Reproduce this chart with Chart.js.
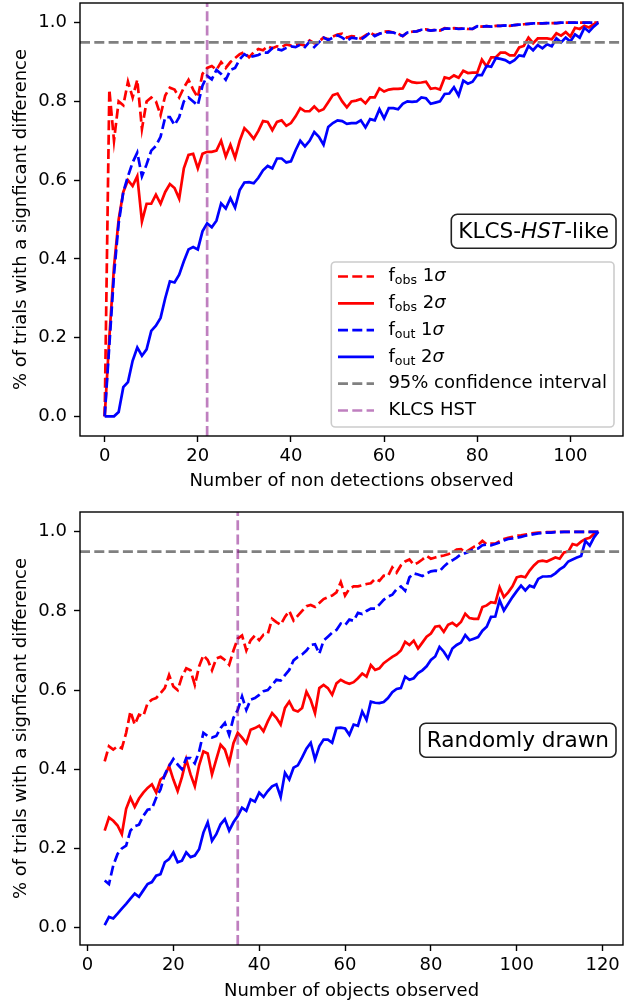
<!DOCTYPE html>
<html>
<head>
<meta charset="utf-8">
<script src="https://cdn.jsdelivr.net/npm/chart.js@4.4.1/dist/chart.umd.min.js"></script>
<style>
  html, body { margin: 0; padding: 0; background: #fff; overflow: hidden; }
  canvas { position: absolute; left: 0; }
  #topChart { top: 0; }
  #bottomChart { top: 509px; }
</style>
</head>
<body>
<canvas id="topChart" width="644" height="500"></canvas>
<canvas id="bottomChart" width="644" height="495"></canvas>
<script>
Chart.defaults.font.family = '"DejaVu Sans", sans-serif';
Chart.defaults.font.size = 18;
Chart.defaults.color = "#000";

// ---- data: top panel (KLCS-HST-like), x = number of non detections 0..106
const topCounts = Array.from({ length: 107 }, (_, i) => i);
const topObs1 = [
  0.00, 0.83, 0.70, 0.80, 0.79, 0.85, 0.81, 0.855, 0.73, 0.80,
  0.81, 0.80, 0.765, 0.815, 0.835, 0.83, 0.81, 0.835, 0.855, 0.83,
  0.81, 0.87, 0.885, 0.89, 0.88, 0.90, 0.885, 0.90, 0.91, 0.92,
  0.925, 0.912, 0.925, 0.933, 0.93, 0.94, 0.935, 0.94, 0.938, 0.945,
  0.942, 0.944, 0.945, 0.942, 0.955, 0.948, 0.952, 0.962, 0.958, 0.965,
  0.97, 0.972, 0.962, 0.966, 0.964, 0.96, 0.968, 0.975, 0.968, 0.972,
  0.977, 0.978, 0.975, 0.972, 0.966, 0.975, 0.977, 0.978, 0.982, 0.983,
  0.98, 0.982, 0.98, 0.986, 0.985, 0.986, 0.985, 0.986, 0.984, 0.984,
  0.992, 0.99, 0.991, 0.99, 0.992, 0.992, 0.993, 0.992, 0.994, 0.995,
  0.996, 0.997, 0.998, 0.998, 0.998, 0.999, 0.999, 0.999, 1.0, 1.0,
  1.0, 1.0, 1.0, 1.0, 1.0, 1.0, 1.0
];
const topObs2 = [
  0.00, 0.20, 0.38, 0.50, 0.57, 0.60, 0.585, 0.61, 0.495, 0.54,
  0.54, 0.563, 0.54, 0.57, 0.59, 0.58, 0.553, 0.63, 0.664, 0.667,
  0.63, 0.667, 0.672, 0.672, 0.675, 0.70, 0.66, 0.69, 0.657, 0.70,
  0.732, 0.72, 0.705, 0.725, 0.75, 0.748, 0.727, 0.748, 0.752, 0.738,
  0.745, 0.762, 0.783, 0.775, 0.775, 0.787, 0.775, 0.78, 0.798, 0.816,
  0.82, 0.80, 0.785, 0.80, 0.802, 0.806, 0.795, 0.81, 0.81, 0.833,
  0.825, 0.83, 0.832, 0.832, 0.833, 0.855, 0.849, 0.847, 0.848, 0.85,
  0.832, 0.834, 0.83, 0.861, 0.858, 0.866, 0.86, 0.878, 0.872, 0.873,
  0.873, 0.906, 0.889, 0.912, 0.912, 0.924, 0.924, 0.917, 0.917, 0.937,
  0.941, 0.962, 0.948, 0.96, 0.96, 0.96, 0.958, 0.973, 0.967, 0.976,
  0.965, 0.987, 0.984, 0.992, 0.988, 0.996, 1.0
];
const topOut1 = [
  0.00, 0.18, 0.36, 0.49, 0.57, 0.61, 0.645, 0.67, 0.61, 0.64,
  0.675, 0.687, 0.71, 0.76, 0.76, 0.74, 0.76, 0.80, 0.81, 0.80,
  0.79, 0.84, 0.865, 0.856, 0.88, 0.87, 0.855, 0.88, 0.885, 0.907,
  0.92, 0.912, 0.915, 0.918, 0.924, 0.924, 0.935, 0.933, 0.93, 0.936,
  0.94, 0.938, 0.944, 0.938, 0.952, 0.938, 0.95, 0.962, 0.956, 0.962,
  0.968, 0.962, 0.954, 0.962, 0.96, 0.957, 0.965, 0.975, 0.966, 0.972,
  0.975, 0.976, 0.975, 0.97, 0.966, 0.975, 0.977, 0.978, 0.982, 0.982,
  0.98, 0.981, 0.98, 0.985, 0.985, 0.986, 0.984, 0.985, 0.985, 0.984,
  0.991, 0.99, 0.991, 0.99, 0.992, 0.992, 0.993, 0.992, 0.994, 0.995,
  0.996, 0.997, 0.998, 0.998, 0.998, 0.999, 0.999, 0.999, 1.0, 1.0,
  1.0, 1.0, 1.0, 1.0, 1.0, 1.0, 1.0
];
const topOut2 = [
  0.00, 0.00, 0.00, 0.011, 0.074, 0.087, 0.141, 0.175, 0.154, 0.17,
  0.217, 0.23, 0.25, 0.30, 0.343, 0.34, 0.36, 0.394, 0.424, 0.43,
  0.424, 0.47, 0.49, 0.48, 0.497, 0.541, 0.528, 0.554, 0.53, 0.575,
  0.594, 0.595, 0.592, 0.606, 0.625, 0.636, 0.63, 0.655, 0.655, 0.645,
  0.648, 0.676, 0.70, 0.686, 0.70, 0.722, 0.71, 0.69, 0.735, 0.745,
  0.752, 0.75, 0.743, 0.745, 0.745, 0.752, 0.734, 0.755, 0.752, 0.78,
  0.757, 0.783, 0.783, 0.78, 0.794, 0.80, 0.799, 0.80, 0.81, 0.808,
  0.794, 0.797, 0.80, 0.819, 0.82, 0.836, 0.815, 0.853, 0.845, 0.85,
  0.867, 0.867, 0.89, 0.888, 0.91, 0.908, 0.905, 0.898, 0.905, 0.917,
  0.915, 0.941, 0.93, 0.943, 0.935, 0.945, 0.94, 0.96, 0.95, 0.962,
  0.952, 0.97, 0.962, 0.987, 0.977, 0.99, 1.0
];

// ---- data: bottom panel (randomly drawn), x = number of objects 4..119
const botCounts = Array.from({ length: 116 }, (_, i) => i + 4);
const botObs1 = [
  0.42, 0.458, 0.45, 0.458, 0.453, 0.492, 0.546, 0.513, 0.538, 0.534,
  0.567, 0.576, 0.58, 0.592, 0.605, 0.638, 0.609, 0.60, 0.634, 0.655,
  0.65, 0.613, 0.66, 0.688, 0.676, 0.65, 0.68, 0.684, 0.676, 0.664,
  0.70, 0.73, 0.738, 0.70, 0.726, 0.738, 0.726, 0.74, 0.742, 0.78,
  0.772, 0.765, 0.785, 0.80, 0.776, 0.788, 0.80, 0.812, 0.815, 0.81,
  0.82, 0.83, 0.835, 0.839, 0.847, 0.873, 0.839, 0.856, 0.862, 0.862,
  0.865, 0.868, 0.87, 0.881, 0.876, 0.889, 0.888, 0.91, 0.897, 0.915,
  0.925, 0.93, 0.917, 0.922, 0.93, 0.939, 0.932, 0.935, 0.938, 0.94,
  0.943, 0.948, 0.955, 0.956, 0.948, 0.955, 0.962, 0.967, 0.977, 0.968,
  0.97, 0.97, 0.976, 0.982, 0.985, 0.987, 0.99, 0.991, 0.993, 0.995,
  0.997, 0.998, 0.998, 0.999, 0.999, 1.0, 1.0, 1.0, 1.0, 1.0,
  1.0, 1.0, 1.0, 1.0, 1.0, 1.0
];
const botObs2 = [
  0.245, 0.278, 0.27, 0.258, 0.236, 0.30, 0.328, 0.305, 0.326, 0.341,
  0.353, 0.362, 0.341, 0.374, 0.383, 0.408, 0.374, 0.345, 0.38, 0.425,
  0.387, 0.357, 0.41, 0.445, 0.44, 0.387, 0.425, 0.462, 0.45, 0.416,
  0.466, 0.492, 0.48, 0.466, 0.50, 0.504, 0.51, 0.496, 0.521, 0.542,
  0.53, 0.513, 0.555, 0.571, 0.55, 0.546, 0.555, 0.596, 0.575, 0.542,
  0.605, 0.613, 0.605, 0.588, 0.617, 0.626, 0.62, 0.616, 0.62, 0.63,
  0.642, 0.634, 0.663, 0.651, 0.655, 0.668, 0.676, 0.684, 0.69, 0.70,
  0.722, 0.714, 0.725, 0.705, 0.72, 0.735, 0.743, 0.76, 0.762, 0.747,
  0.765, 0.77, 0.762, 0.772, 0.793, 0.782, 0.78, 0.78, 0.81, 0.814,
  0.822, 0.82, 0.86, 0.835, 0.847, 0.862, 0.885, 0.888, 0.885, 0.902,
  0.915, 0.925, 0.927, 0.925, 0.93, 0.935, 0.932, 0.948, 0.95, 0.969,
  0.966, 0.975, 0.982, 0.985, 0.995, 1.0
];
const botOut1 = [
  0.119, 0.11, 0.157, 0.186, 0.20, 0.207, 0.245, 0.256, 0.26, 0.282,
  0.298, 0.30, 0.328, 0.349, 0.387, 0.408, 0.426, 0.412, 0.40, 0.428,
  0.428, 0.415, 0.445, 0.492, 0.484, 0.48, 0.484, 0.504, 0.517, 0.487,
  0.53, 0.55, 0.584, 0.55, 0.576, 0.58, 0.588, 0.597, 0.60, 0.613,
  0.626, 0.624, 0.638, 0.651, 0.675, 0.684, 0.69, 0.70, 0.714, 0.716,
  0.692, 0.725, 0.735, 0.745, 0.752, 0.768, 0.764, 0.778, 0.775, 0.795,
  0.792, 0.80, 0.806, 0.806, 0.816, 0.828, 0.836, 0.841, 0.855, 0.862,
  0.851, 0.885, 0.895, 0.892, 0.888, 0.895, 0.90, 0.902, 0.90, 0.912,
  0.922, 0.928, 0.935, 0.943, 0.946, 0.95, 0.956, 0.958, 0.966, 0.968,
  0.966, 0.969, 0.973, 0.978, 0.982, 0.983, 0.985, 0.987, 0.99, 0.992,
  0.994, 0.996, 0.997, 0.998, 0.998, 0.999, 0.999, 1.0, 1.0, 1.0,
  1.0, 1.0, 1.0, 1.0, 1.0, 1.0
];
const botOut2 = [
  0.006, 0.027, 0.023, 0.035, 0.048, 0.06, 0.073, 0.086, 0.078, 0.094,
  0.11, 0.115, 0.131, 0.135, 0.165, 0.173, 0.19, 0.165, 0.169, 0.19,
  0.178, 0.182, 0.198, 0.24, 0.266, 0.219, 0.236, 0.261, 0.274, 0.245,
  0.266, 0.282, 0.303, 0.295, 0.324, 0.318, 0.341, 0.33, 0.345, 0.357,
  0.362, 0.33, 0.391, 0.374, 0.404, 0.41, 0.43, 0.452, 0.467, 0.425,
  0.458, 0.475, 0.475, 0.467, 0.504, 0.505, 0.503, 0.487, 0.513, 0.51,
  0.546, 0.525, 0.571, 0.568, 0.567, 0.57, 0.58, 0.595, 0.603, 0.605,
  0.634, 0.626, 0.63, 0.643, 0.65, 0.66, 0.676, 0.685, 0.709, 0.697,
  0.68, 0.705, 0.714, 0.72, 0.739, 0.726, 0.73, 0.734, 0.75, 0.76,
  0.785, 0.786, 0.827, 0.801, 0.818, 0.835, 0.85, 0.864, 0.852, 0.864,
  0.86, 0.881, 0.887, 0.887, 0.888, 0.895, 0.905, 0.912, 0.925, 0.93,
  0.935, 0.939, 0.977, 0.965, 0.986, 1.0
];

const confLevel = 0.95;
const klcsTop = 22;
const klcsBottom = 35;
const yTicks = [0, 0.2, 0.4, 0.6, 0.8, 1.0];
const topXTicks = [0, 20, 40, 60, 80, 100];
const botXTicks = [0, 20, 40, 60, 80, 100, 120];

const DASH = [10, 4.3];
const LW = 2.7;

// legend texts, split into pieces: "" normal, "sub" subscript, "it" italic
const legendLabels = [
  [["f", ""], ["obs", "sub"], [" 1", ""], ["σ", "it"]],
  [["f", ""], ["obs", "sub"], [" 2", ""], ["σ", "it"]],
  [["f", ""], ["out", "sub"], [" 1", ""], ["σ", "it"]],
  [["f", ""], ["out", "sub"], [" 2", ""], ["σ", "it"]],
  [["95% confidence interval", ""]],
  [["KLCS HST", ""]]
];

const fontOf = (kind, size) => {
  if (kind === "sub") return `${size * 0.7}px "DejaVu Sans"`;
  if (kind === "it") return `italic ${size}px "DejaVu Sans"`;
  return `${size}px "DejaVu Sans"`;
};

const pieceWidth = (ctx, pieces, size) => {
  let w = 0;
  pieces.forEach(([t, k]) => { ctx.font = fontOf(k, size); w += ctx.measureText(t).width; });
  return w;
};

const drawPieces = (ctx, pieces, x, y, size) => {
  ctx.textAlign = "left";
  ctx.textBaseline = "middle";
  pieces.forEach(([t, k]) => {
    ctx.font = fontOf(k, size);
    ctx.fillText(t, x, k === "sub" ? y + size * 0.25 : y);
    x += ctx.measureText(t).width;
  });
};

const roundRect = (ctx, x, y, w, h, r) => {
  ctx.beginPath();
  ctx.moveTo(x + r, y);
  ctx.arcTo(x + w, y, x + w, y + h, r);
  ctx.arcTo(x + w, y + h, x, y + h, r);
  ctx.arcTo(x, y + h, x, y, r);
  ctx.arcTo(x, y, x + w, y, r);
  ctx.closePath();
};

const framePlugin = {
  id: "frame",
  afterDraw(chart, args, opts) {
    const { ctx, chartArea: ca } = chart;
    ctx.save();
    ctx.strokeStyle = "#000";
    ctx.lineWidth = 1.4;
    ctx.strokeRect(ca.left, ca.top, ca.right - ca.left, ca.bottom - ca.top);

    // annotation box
    const fs = 21.6;
    const tw = pieceWidth(ctx, opts.note, fs);
    const bw = tw + 14, bh = 34;
    const bx = ca.right - 7 - bw;
    const cy = ca.top + 0.527 * (ca.bottom - ca.top);
    roundRect(ctx, bx, cy - bh / 2, bw, bh, 6);
    ctx.fillStyle = "#fff";
    ctx.fill();
    ctx.strokeStyle = "#222";
    ctx.lineWidth = 1.6;
    ctx.stroke();
    ctx.fillStyle = "#000";
    drawPieces(ctx, opts.note, bx + 7, cy + 1, fs);

    // legend
    if (opts.legend) {
      const size = 18;
      const items = chart.data.datasets.slice(0, legendLabels.length);
      const maxW = Math.max(...legendLabels.map(p => pieceWidth(ctx, p, size)));
      const w = 6.7 + 36 + 14.4 + maxW + 7;
      const rowH = 26.8;
      const h = 165;
      const lx = ca.right - 9 - w;
      const ly = ca.bottom - 9 - h;
      roundRect(ctx, lx, ly, w, h, 4);
      ctx.fillStyle = "rgba(255,255,255,0.8)";
      ctx.fill();
      ctx.strokeStyle = "#cccccc";
      ctx.lineWidth = 1.6;
      ctx.stroke();
      items.forEach((ds, i) => {
        const yy = ly + 14.5 + i * rowH;
        ctx.beginPath();
        ctx.setLineDash(ds.borderDash || []);
        ctx.strokeStyle = ds.borderColor;
        ctx.lineWidth = LW;
        ctx.moveTo(lx + 6.7, yy);
        ctx.lineTo(lx + 6.7 + 36, yy);
        ctx.stroke();
        ctx.setLineDash([]);
        ctx.fillStyle = "#000";
        drawPieces(ctx, legendLabels[i], lx + 6.7 + 36 + 14.4, yy, size);
      });
    }
    ctx.restore();
  }
};

// stop Chart.js from reserving room for half tick labels at the edges
const noEdgePadding = s => {
  s.paddingTop = 0; s.paddingBottom = 0; s.paddingLeft = 0; s.paddingRight = 0;
};

const makePanel = (id, p) => {
  const series = (ys, color, dashed, order) => ({
    data: p.xs.map((x, i) => ({ x, y: ys[i] })),
    borderColor: color,
    borderWidth: LW,
    borderDash: dashed ? DASH : [],
    pointRadius: 0,
    tension: 0,
    fill: false,
    order
  });
  const datasets = [
    series(p.obs1, "#ff0000", true, 6),
    series(p.obs2, "#ff0000", false, 5),
    series(p.out1, "#0000ff", true, 4),
    series(p.out2, "#0000ff", false, 3),
    {
      data: [{ x: p.xMin, y: confLevel }, { x: p.xMax, y: confLevel }],
      borderColor: "#808080", borderWidth: LW, borderDash: DASH, pointRadius: 0, order: 2
    },
    {
      data: [{ x: p.vline, y: p.yMin }, { x: p.vline, y: p.yMax }],
      borderColor: "rgba(128,0,128,0.5)", borderWidth: LW, borderDash: DASH, pointRadius: 0, order: 1
    }
  ];
  new Chart(id, {
    type: "line",
    data: { datasets },
    options: {
      responsive: false,
      animation: false,
      events: [],
      layout: { padding: { top: 3, right: 21, bottom: 0, left: 0 } },
      plugins: {
        legend: { display: false },
        tooltip: { enabled: false },
        frame: { note: p.note, legend: p.legend }
      },
      scales: {
        x: {
          type: "linear",
          min: p.xMin,
          max: p.xMax,
          afterBuildTicks: s => { s.ticks = p.xTicks.map(v => ({ value: v })); },
          afterFit: s => { s.height = p.xAxisH; noEdgePadding(s); },
          ticks: { autoSkip: false, maxRotation: 0, padding: 4, color: "#000", callback: v => String(v) },
          grid: { drawOnChartArea: false, drawTicks: true, tickLength: 6, tickWidth: 1.4, tickColor: "#000" },
          border: { display: false },
          title: { display: true, text: p.xTitle, color: "#000", padding: { top: 0, bottom: p.xTitlePad } }
        },
        y: {
          min: p.yMin,
          max: p.yMax,
          afterBuildTicks: s => { s.ticks = yTicks.map(v => ({ value: v })); },
          afterFit: s => { s.width = 80; noEdgePadding(s); },
          ticks: { padding: 7, color: "#000", callback: v => v.toFixed(1) },
          grid: { drawOnChartArea: false, drawTicks: true, tickLength: 6, tickWidth: 1.4, tickColor: "#000" },
          border: { display: false },
          title: { display: true, text: "% of trials with a signficant difference", color: "#000", padding: { top: 11, bottom: 0 } }
        }
      }
    },
    plugins: [framePlugin]
  });
};

makePanel("topChart", {
  xs: topCounts, obs1: topObs1, obs2: topObs2, out1: topOut1, out2: topOut2,
  xMin: -5.3, xMax: 111.3, yMin: -0.05, yMax: 1.05,
  vline: klcsTop, xTicks: topXTicks, xAxisH: 64, xTitlePad: 7.5,
  xTitle: "Number of non detections observed",
  note: [["KLCS-", ""], ["HST", "it"], ["-like", ""]],
  legend: true
});

makePanel("bottomChart", {
  xs: botCounts, obs1: botObs1, obs2: botObs2, out1: botOut1, out2: botOut2,
  xMin: -1.75, xMax: 124.75, yMin: -0.044, yMax: 1.05,
  vline: klcsBottom, xTicks: botXTicks, xAxisH: 59, xTitlePad: 2.2,
  xTitle: "Number of objects observed",
  note: [["Randomly drawn", ""]],
  legend: false
});
</script>
</body>
</html>
